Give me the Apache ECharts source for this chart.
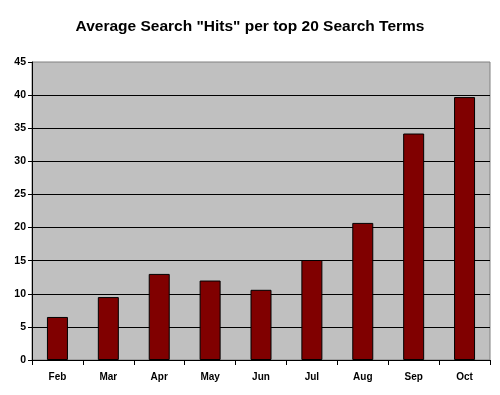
<!DOCTYPE html>
<html><head><meta charset="utf-8">
<script src="https://cdn.jsdelivr.net/npm/echarts@6/dist/echarts.min.js"></script>
<style>html,body{margin:0;padding:0;background:#fff}#c{width:500px;height:395px}</style>
</head><body><div id="c"></div>
<script>
const categories = ["Feb","Mar","Apr","May","Jun","Jul","Aug","Sep","Oct"];
const hits = [6.5, 9.5, 13, 12, 10.6, 15.1, 20.7, 34.2, 39.7];
const titleText = 'Average Search "Hits" per top 20 Search Terms';

const chart = echarts.init(document.getElementById('c'), null, {renderer:'canvas'});
chart.setOption({
  animation:false,
  backgroundColor:'#fff',
  title:{text:titleText,left:'center',top:14,textStyle:{fontFamily:'Liberation Sans, Arial',fontSize:15.5,fontWeight:'bold',color:'#000'}},
  grid:{left:32,right:10,top:62,bottom:35,show:true,backgroundColor:'#c0c0c0',borderColor:'#808080',borderWidth:1},
  xAxis:{type:'category',data:categories,
    axisLine:{lineStyle:{color:'#000',width:1}},
    axisTick:{show:true,inside:false,length:5,alignWithLabel:false,lineStyle:{color:'#000'}},
    axisLabel:{fontFamily:'Liberation Sans, Arial',fontSize:10,fontWeight:'bold',color:'#000',margin:12}},
  yAxis:{type:'value',min:0,max:45,interval:5,
    axisLine:{show:true,lineStyle:{color:'#000',width:1}},
    axisTick:{show:true,inside:false,length:4,lineStyle:{color:'#000'}},
    splitLine:{show:true,showMaxLine:false,lineStyle:{color:'#000',width:1}},
    axisLabel:{fontFamily:'Liberation Sans, Arial',fontSize:10.5,fontWeight:'bold',color:'#000',margin:6}},
  series:[{type:'bar',data:hits,barWidth:21,
    itemStyle:{color:'#800000',borderColor:'#000',borderWidth:1}}]
});
</script></body></html>
